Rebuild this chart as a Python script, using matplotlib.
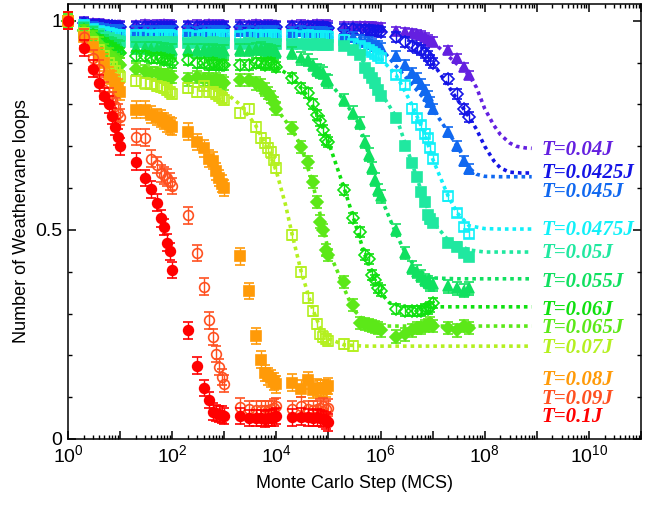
import matplotlib
matplotlib.use('Agg')
import matplotlib.pyplot as plt
from matplotlib.ticker import FixedLocator, FixedFormatter, NullFormatter

plt.rcParams.update({
    'font.family': ['Liberation Sans', 'DejaVu Sans'],
    'mathtext.fontset': 'custom',
    'mathtext.rm': 'Liberation Sans',
    'mathtext.it': 'Liberation Sans:italic',
    'axes.linewidth': 1.1,
})

# Monte Carlo steps sampled (1, then 2..10 x each decade, then 2e7..5e7)
MCS = [1,
       2, 3, 4, 5, 6, 7, 8, 9, 10,
       20, 30, 40, 50, 60, 70, 80, 90, 100,
       200, 300, 400, 500, 600, 700, 800, 900, 1e3,
       2e3, 3e3, 4e3, 5e3, 6e3, 7e3, 8e3, 9e3, 1e4,
       2e4, 3e4, 4e4, 5e4, 6e4, 7e4, 8e4, 9e4, 1e5,
       2e5, 3e5, 4e5, 5e5, 6e5, 7e5, 8e5, 9e5, 1e6,
       2e6, 3e6, 4e6, 5e6, 6e6, 7e6, 8e6, 9e6, 1e7,
       2e7, 3e7, 4e7, 5e7]

# fraction of weathervane loops, one list per temperature
y_t0400 = [1,
           0.998, 0.995, 0.993, 0.992, 0.99, 0.99, 0.99, 0.99, 0.99,
           0.99, 0.992, 0.99, 0.991, 0.99, 0.992, 0.99, 0.991, 0.99,
           0.99, 0.991, 0.99, 0.992, 0.99, 0.99, 0.991, 0.99, 0.99,
           0.991, 0.99, 0.992, 0.99, 0.99, 0.991, 0.99, 0.99, 0.99,
           0.99, 0.991, 0.99, 0.99, 0.992, 0.99, 0.99, 0.991, 0.99,
           0.988, 0.988, 0.987, 0.987, 0.986, 0.986, 0.985, 0.985, 0.985,
           0.975, 0.972, 0.97, 0.968, 0.965, 0.96, 0.955, 0.952, 0.95,
           0.93, 0.91, 0.89, 0.87]
y_t0425 = [1,
           0.995, 0.99, 0.99, 0.988, 0.987, 0.987, 0.986, 0.986, 0.985,
           0.985, 0.986, 0.984, 0.985, 0.985, 0.986, 0.984, 0.985, 0.985,
           0.985, 0.984, 0.986, 0.985, 0.984, 0.985, 0.985, 0.984, 0.985,
           0.985, 0.984, 0.985, 0.986, 0.984, 0.985, 0.984, 0.985, 0.985,
           0.984, 0.985, 0.984, 0.985, 0.984, 0.983, 0.984, 0.983, 0.983,
           0.98, 0.98, 0.978, 0.978, 0.977, 0.976, 0.975, 0.975, 0.972,
           0.96, 0.95, 0.94, 0.935, 0.93, 0.923, 0.915, 0.905, 0.90,
           0.86, 0.825, 0.79, 0.77]
y_t0450 = [1,
           0.99, 0.985, 0.982, 0.98, 0.978, 0.978, 0.977, 0.977, 0.976,
           0.975, 0.976, 0.975, 0.974, 0.975, 0.976, 0.975, 0.974, 0.975,
           0.975, 0.974, 0.975, 0.976, 0.975, 0.974, 0.975, 0.975, 0.974,
           0.975, 0.976, 0.974, 0.975, 0.975, 0.974, 0.975, 0.975, 0.974,
           0.974, 0.975, 0.973, 0.974, 0.972, 0.973, 0.972, 0.971, 0.97,
           0.965, 0.96, 0.955, 0.95, 0.948, 0.945, 0.94, 0.94, 0.935,
           0.915, 0.895, 0.875, 0.862, 0.848, 0.835, 0.82, 0.805, 0.79,
           0.735, 0.70, 0.665, 0.645]
y_t0475 = [1,
           0.99, 0.98, 0.975, 0.972, 0.97, 0.968, 0.967, 0.966, 0.965,
           0.965, 0.966, 0.964, 0.965, 0.966, 0.964, 0.965, 0.965, 0.964,
           0.965, 0.964, 0.966, 0.965, 0.964, 0.965, 0.966, 0.964, 0.965,
           0.964, 0.965, 0.966, 0.964, 0.965, 0.964, 0.965, 0.966, 0.964,
           0.965, 0.964, 0.965, 0.963, 0.964, 0.963, 0.962, 0.963, 0.962,
           0.955, 0.945, 0.94, 0.935, 0.93, 0.925, 0.92, 0.915, 0.91,
           0.87, 0.846, 0.79, 0.767, 0.75, 0.73, 0.72, 0.695, 0.67,
           0.58, 0.54, 0.507, 0.49]
y_t0500 = [1,
           0.985, 0.975, 0.968, 0.962, 0.958, 0.955, 0.953, 0.951, 0.95,
           0.95, 0.948, 0.95, 0.947, 0.949, 0.95, 0.948, 0.947, 0.948,
           0.947, 0.948, 0.946, 0.947, 0.948, 0.946, 0.947, 0.945, 0.946,
           0.945, 0.946, 0.944, 0.945, 0.946, 0.944, 0.945, 0.944, 0.945,
           0.944, 0.945, 0.943, 0.944, 0.943, 0.944, 0.943, 0.942, 0.942,
           0.94, 0.93, 0.918, 0.887, 0.875, 0.863, 0.85, 0.835, 0.82,
           0.767, 0.70, 0.66, 0.627, 0.59, 0.567, 0.536, 0.525, 0.516,
           0.468, 0.46, 0.445, 0.435]
y_t0550 = [1,
           0.98, 0.97, 0.96, 0.952, 0.947, 0.943, 0.94, 0.938, 0.936,
           0.935, 0.935, 0.933, 0.933, 0.932, 0.932, 0.93, 0.93, 0.93,
           0.93, 0.93, 0.93, 0.928, 0.93, 0.928, 0.928, 0.927, 0.927,
           0.93, 0.93, 0.932, 0.933, 0.93, 0.93, 0.928, 0.925, 0.925,
           0.923, 0.91, 0.906, 0.894, 0.882, 0.878, 0.875, 0.858, 0.855,
           0.81, 0.78, 0.755, 0.71, 0.68, 0.648, 0.62, 0.595, 0.58,
           0.50, 0.445, 0.41, 0.40, 0.39, 0.38, 0.375, 0.37, 0.37,
           0.365, 0.36, 0.355, 0.36]
y_t0600 = [1,
           0.978, 0.965, 0.955, 0.946, 0.94, 0.935, 0.93, 0.926, 0.922,
           0.915, 0.915, 0.91, 0.91, 0.91, 0.905, 0.905, 0.905, 0.90,
           0.905, 0.90, 0.90, 0.895, 0.90, 0.895, 0.895, 0.895, 0.895,
           0.895, 0.895, 0.90, 0.90, 0.895, 0.90, 0.90, 0.895, 0.89,
           0.863, 0.84, 0.827, 0.80, 0.775, 0.76, 0.738, 0.715, 0.71,
           0.595, 0.528, 0.495, 0.44, 0.43, 0.392, 0.38, 0.36, 0.355,
           0.31, 0.305, 0.305, 0.305, 0.305, 0.31, 0.31, 0.315, 0.325]
y_t0650 = [1,
           0.975, 0.96, 0.945, 0.93, 0.92, 0.91, 0.905, 0.90, 0.895,
           0.885, 0.88, 0.875, 0.875, 0.87, 0.87, 0.87, 0.865, 0.865,
           0.86, 0.865, 0.86, 0.86, 0.855, 0.86, 0.855, 0.855, 0.85,
           0.858, 0.858, 0.85, 0.846, 0.835, 0.827, 0.818, 0.803, 0.79,
           0.744, 0.698, 0.662, 0.614, 0.567, 0.52, 0.50, 0.452, 0.44,
           0.375, 0.32, 0.277, 0.275, 0.272, 0.27, 0.268, 0.265, 0.26,
           0.245, 0.25, 0.26, 0.265, 0.265, 0.27, 0.272, 0.277, 0.27,
           0.265, 0.26, 0.27, 0.265]
y_t0700 = [1,
           0.97, 0.95, 0.93, 0.915, 0.90, 0.89, 0.88, 0.87, 0.865,
           0.855, 0.85, 0.848, 0.845, 0.842, 0.84, 0.835, 0.83, 0.825,
           0.84, 0.83, 0.845, 0.83, 0.83, 0.825, 0.82, 0.815, 0.81,
           0.78, 0.79, 0.745, 0.72, 0.707, 0.695, 0.685, 0.667, 0.648,
           0.488, 0.40, 0.337, 0.306, 0.275, 0.252, 0.245, 0.238, 0.235,
           0.228, 0.222]
y_t0800 = [1,
           0.96, 0.937, 0.915, 0.90, 0.87, 0.86, 0.85, 0.84, 0.83,
           0.787, 0.787, 0.775, 0.77, 0.767, 0.76, 0.755, 0.75, 0.747,
           0.735, 0.71, 0.695, 0.67, 0.665, 0.64, 0.624, 0.61, 0.60,
           0.437, 0.354, 0.246, 0.19, 0.158, 0.15, 0.145, 0.138, 0.131,
           0.135, 0.12, 0.14, 0.118, 0.123, 0.12, 0.122, 0.12, 0.127]
y_t0900 = [1,
           0.96, 0.91, 0.885, 0.834, 0.82, 0.81, 0.795, 0.78, 0.77,
           0.722, 0.72, 0.67, 0.655, 0.635, 0.63, 0.625, 0.615, 0.605,
           0.535, 0.445, 0.364, 0.284, 0.244, 0.203, 0.172, 0.148, 0.132,
           0.077, 0.072, 0.07, 0.07, 0.07, 0.07, 0.072, 0.075, 0.078,
           0.072, 0.08, 0.072, 0.07, 0.072, 0.075, 0.078, 0.072, 0.075]
y_t1000 = [1,
           0.935, 0.885, 0.851, 0.82, 0.80, 0.772, 0.746, 0.722, 0.70,
           0.663, 0.624, 0.597, 0.565, 0.528, 0.507, 0.469, 0.449, 0.404,
           0.26, 0.175, 0.122, 0.093, 0.065, 0.062, 0.06, 0.058, 0.055,
           0.055, 0.05, 0.05, 0.05, 0.048, 0.05, 0.05, 0.052, 0.055,
           0.052, 0.053, 0.052, 0.05, 0.052, 0.05, 0.048, 0.045, 0.04]

# dotted fit curves (x, y)
fit_x_t0400 = [1e7, 5e7, 7e7, 1e8, 1.5e8, 2e8, 3e8, 4e8, 6e8, 8e8]
fit_y_t0400 = [0.95, 0.87, 0.84, 0.79, 0.75, 0.728, 0.708, 0.70, 0.696, 0.695]
fit_x_t0425 = [1e7, 5e7, 7e7, 1e8, 1.5e8, 2e8, 3e8, 5e8, 8e8]
fit_y_t0425 = [0.90, 0.77, 0.74, 0.70, 0.665, 0.648, 0.638, 0.636, 0.636]
fit_x_t0450 = [1e6, 1e7, 3e7, 5e7, 7e7, 1e8, 2e8, 8e8]
fit_y_t0450 = [0.935, 0.79, 0.70, 0.648, 0.633, 0.628, 0.627, 0.627]
fit_x_t0475 = [1e6, 2e6, 4e6, 7e6, 1e7, 2e7, 3e7, 5e7, 1e8, 2e8, 8e8]
fit_y_t0475 = [0.91, 0.87, 0.80, 0.73, 0.67, 0.58, 0.54, 0.51, 0.503, 0.502, 0.502]
fit_x_t0500 = [2e5, 5e5, 1e6, 2e6, 4e6, 7e6, 1e7, 2e7, 5e7, 1e8, 8e8]
fit_y_t0500 = [0.94, 0.90, 0.83, 0.77, 0.66, 0.57, 0.52, 0.475, 0.452, 0.447, 0.447]
fit_x_t0550 = [3e4, 1e5, 2e5, 4e5, 7e5, 1e6, 2e6, 3e6, 5e6, 1e7, 3e7, 8e8]
fit_y_t0550 = [0.91, 0.855, 0.81, 0.75, 0.65, 0.58, 0.49, 0.445, 0.405, 0.385, 0.383, 0.383]
fit_x_t0600 = [1e4, 2e4, 4e4, 7e4, 1e5, 2e5, 3e5, 5e5, 7e5, 1e6, 1.5e6, 3e6, 8e8]
fit_y_t0600 = [0.89, 0.865, 0.82, 0.76, 0.71, 0.60, 0.53, 0.44, 0.39, 0.35, 0.325, 0.316, 0.316]
fit_x_t0650 = [3e3, 1e4, 2e4, 3e4, 5e4, 7e4, 1e5, 1.5e5, 2e5, 3e5, 5e5, 1e6, 8e8]
fit_y_t0650 = [0.855, 0.79, 0.74, 0.70, 0.61, 0.535, 0.45, 0.40, 0.36, 0.31, 0.28, 0.27, 0.27]
fit_x_t0700 = [1e3, 2e3, 4e3, 7e3, 1e4, 1.5e4, 2e4, 3e4, 5e4, 7e4, 1e5, 2e5, 5e5, 8e8]
fit_y_t0700 = [0.83, 0.80, 0.75, 0.69, 0.64, 0.56, 0.49, 0.40, 0.31, 0.265, 0.24, 0.225, 0.222, 0.222]

labels = ['T=0.04J', 'T=0.0425J', 'T=0.045J', 'T=0.0475J', 'T=0.05J', 'T=0.055J',
          'T=0.06J', 'T=0.065J', 'T=0.07J', 'T=0.08J', 'T=0.09J', 'T=0.1J']
label_y = [0.691, 0.636, 0.591, 0.500, 0.445, 0.375, 0.308, 0.265, 0.218,
           0.141, 0.096, 0.053]
colors = ['#6420E0', '#1414E6', '#1068F0', '#10F0F8', '#20E8A0', '#10E060',
          '#10E010', '#5CE818', '#B4F020', '#FF9A08', '#FF5020', '#FF0000']
markers = ['^', 'D', '^', 's', 's', '^', 'D', 'D', 's', 's', 'o', 'o']
filled = [True, False, True, False, True, True, False, True, False, True, False, True]
errs = [0.01, 0.012, 0.012, 0.01, 0.01, 0.015, 0.012, 0.015, 0.012, 0.02, 0.02, 0.02]

ys = [y_t0400, y_t0425, y_t0450, y_t0475, y_t0500, y_t0550,
      y_t0600, y_t0650, y_t0700, y_t0800, y_t0900, y_t1000]
fits = [(fit_x_t0400, fit_y_t0400), (fit_x_t0425, fit_y_t0425),
        (fit_x_t0450, fit_y_t0450), (fit_x_t0475, fit_y_t0475),
        (fit_x_t0500, fit_y_t0500), (fit_x_t0550, fit_y_t0550),
        (fit_x_t0600, fit_y_t0600), (fit_x_t0650, fit_y_t0650),
        (fit_x_t0700, fit_y_t0700), None, None, None]

fig = plt.figure(figsize=(6.56, 5.15), dpi=100)
ax = fig.add_axes([0.1037, 0.1476, 0.8733, 0.8446])
ax.set_xscale('log')

# marker size per marker shape
ms_map = {'o': 7, 's': 7, 'D': 6, '^': 7}

for i in range(len(ys)):
    c = colors[i]
    if fits[i] is not None:
        ax.plot(fits[i][0], fits[i][1], color=c, lw=2.6,
                linestyle=(0, (1, 1.1)), dash_capstyle='butt', zorder=1)
    y = ys[i]
    x = MCS[:len(y)]
    ax.errorbar(x, y, yerr=errs[i], fmt=markers[i], color=c, ms=ms_map[markers[i]],
                mfc=c if filled[i] else 'none', mec=c, mew=1.2,
                ecolor=c, elinewidth=1.0, capsize=3.5, capthick=1.0,
                zorder=2 + i, clip_on=False)

for i in range(len(labels)):
    ax.text(1.26e9, label_y[i], labels[i], color=colors[i], fontsize=15,
            family=['Liberation Serif', 'DejaVu Serif'], style='italic',
            fontweight='bold', ha='left', va='center', zorder=30)

ax.set_xlim(1, 1e11)
ax.set_ylim(0, 1.04)

xt = [10.0 ** k for k in range(0, 12)]
xl = [r'$\mathdefault{10^{%d}}$' % k if k % 2 == 0 else '' for k in range(0, 12)]
ax.xaxis.set_major_locator(FixedLocator(xt))
ax.xaxis.set_major_formatter(FixedFormatter(xl))
ax.xaxis.set_minor_locator(FixedLocator([m * 10.0 ** k for k in range(0, 11) for m in range(2, 10)]))
ax.xaxis.set_minor_formatter(NullFormatter())
ax.set_yticks([0, 0.5, 1])
ax.set_yticklabels(['0', '0.5', '1'])
ax.set_yticks([0.1, 0.2, 0.3, 0.4, 0.6, 0.7, 0.8, 0.9], minor=True)

ax.tick_params(which='both', direction='in', top=True, right=True, labelsize=14)
ax.tick_params(which='major', length=6, width=1.1, pad=4)
ax.tick_params(which='minor', length=3, width=1.0)

ax.set_xlabel('Monte Carlo Step (MCS)', fontsize=13, labelpad=6)
ax.set_ylabel('Number of Weathervane loops', fontsize=13, labelpad=4)

fig.savefig('out.png', dpi=100, facecolor='white')
